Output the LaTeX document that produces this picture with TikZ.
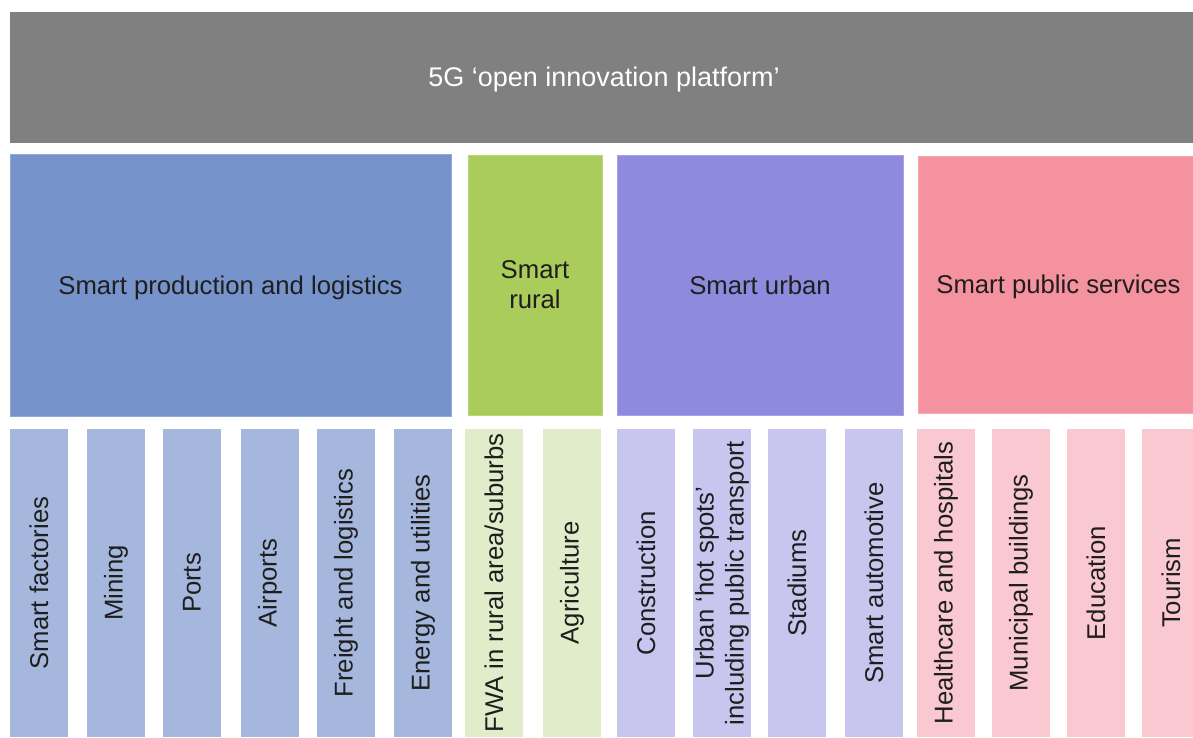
\documentclass[tikz,border=0pt]{standalone}
\usepackage{fontspec}
\setmainfont{Liberation Sans}
\definecolor{cgray}{HTML}{808080}
\definecolor{cblue}{HTML}{7694CB}
\definecolor{cgreen}{HTML}{A9CC5A}
\definecolor{cpurple}{HTML}{8E8BDE}
\definecolor{cpink}{HTML}{F492A0}
\definecolor{lblue}{HTML}{A6B7DE}
\definecolor{lgreen}{HTML}{E1EDCA}
\definecolor{lpurple}{HTML}{C8C6EE}
\definecolor{lpink}{HTML}{F9C8D0}
\definecolor{txt}{HTML}{1E1E1E}
\tikzset{
  box/.style={rectangle, inner sep=0pt, text=txt, align=center,
    font=\fontsize{12.85}{15}\selectfont},
  cat/.style={box, minimum height=130pt, line width=0.5pt},
  oneline/.style={text height=9.3pt, text depth=0pt},
  bar/.style={box, minimum width=154pt, minimum height=29pt, rotate=90},
}
\begin{document}
\begin{tikzpicture}[x=0.5pt,y=-0.5pt]
\clip (0,0) rectangle (1193,738);
\fill[white] (0,0) rectangle (1193,738);
% title
\node[box, oneline, fill=cgray, minimum width=594pt, minimum height=65.5pt, text=white,
  font=\fontsize{13.5}{16}\selectfont] (title) at (604,77.5) {5G ‘open innovation platform’};
% categories
\node[cat, oneline, fill=cblue, draw=cblue!80!white, minimum width=220.5pt, minimum height=131pt] (prod) at (230.5,285) {Smart production and logistics};
\node[cat, fill=cgreen, draw=cgreen!80!white, minimum width=67pt] (rural) at (535,285) {Smart\\rural};
\node[cat, oneline, fill=cpurple, draw=cpurple!80!white, minimum width=143pt] (urban) at (760,285) {Smart urban};
\node[cat, oneline, fill=cpink, draw=cpink!80!white, minimum width=140.5pt, minimum height=128.5pt] (public) at (1058.5,284.5) {Smart public services};
% bars
\node[bar, fill=lblue] (b1) at (39,583) {Smart factories};
\node[bar, fill=lblue] (b2) at (116,583) {Mining};
\node[bar, fill=lblue] (b3) at (192,583) {Ports};
\node[bar, fill=lblue] (b4) at (270,583) {Airports};
\node[bar, fill=lblue] (b5) at (346,583) {Freight and logistics};
\node[bar, fill=lblue] (b6) at (423,583) {Energy and utilities};
\node[bar, fill=lgreen] (b7) at (494,583) {FWA in rural area/suburbs};
\node[bar, fill=lgreen] (b8) at (572,583) {Agriculture};
\node[bar, fill=lpurple] (b9) at (646,583) {Construction};
\node[bar, fill=lpurple] (b10) at (722,583) {Urban ‘hot spots’\\including public transport};
\node[bar, fill=lpurple] (b11) at (797,583) {Stadiums};
\node[bar, fill=lpurple] (b12) at (874,583) {Smart automotive};
\node[bar, fill=lpink] (b13) at (946,583) {Healthcare and hospitals};
\node[bar, fill=lpink] (b14) at (1021,583) {Municipal buildings};
\node[bar, fill=lpink] (b15) at (1096,583) {Education};
\node[bar, fill=lpink] (b16) at (1171,583) {Tourism};
\end{tikzpicture}
\end{document}
